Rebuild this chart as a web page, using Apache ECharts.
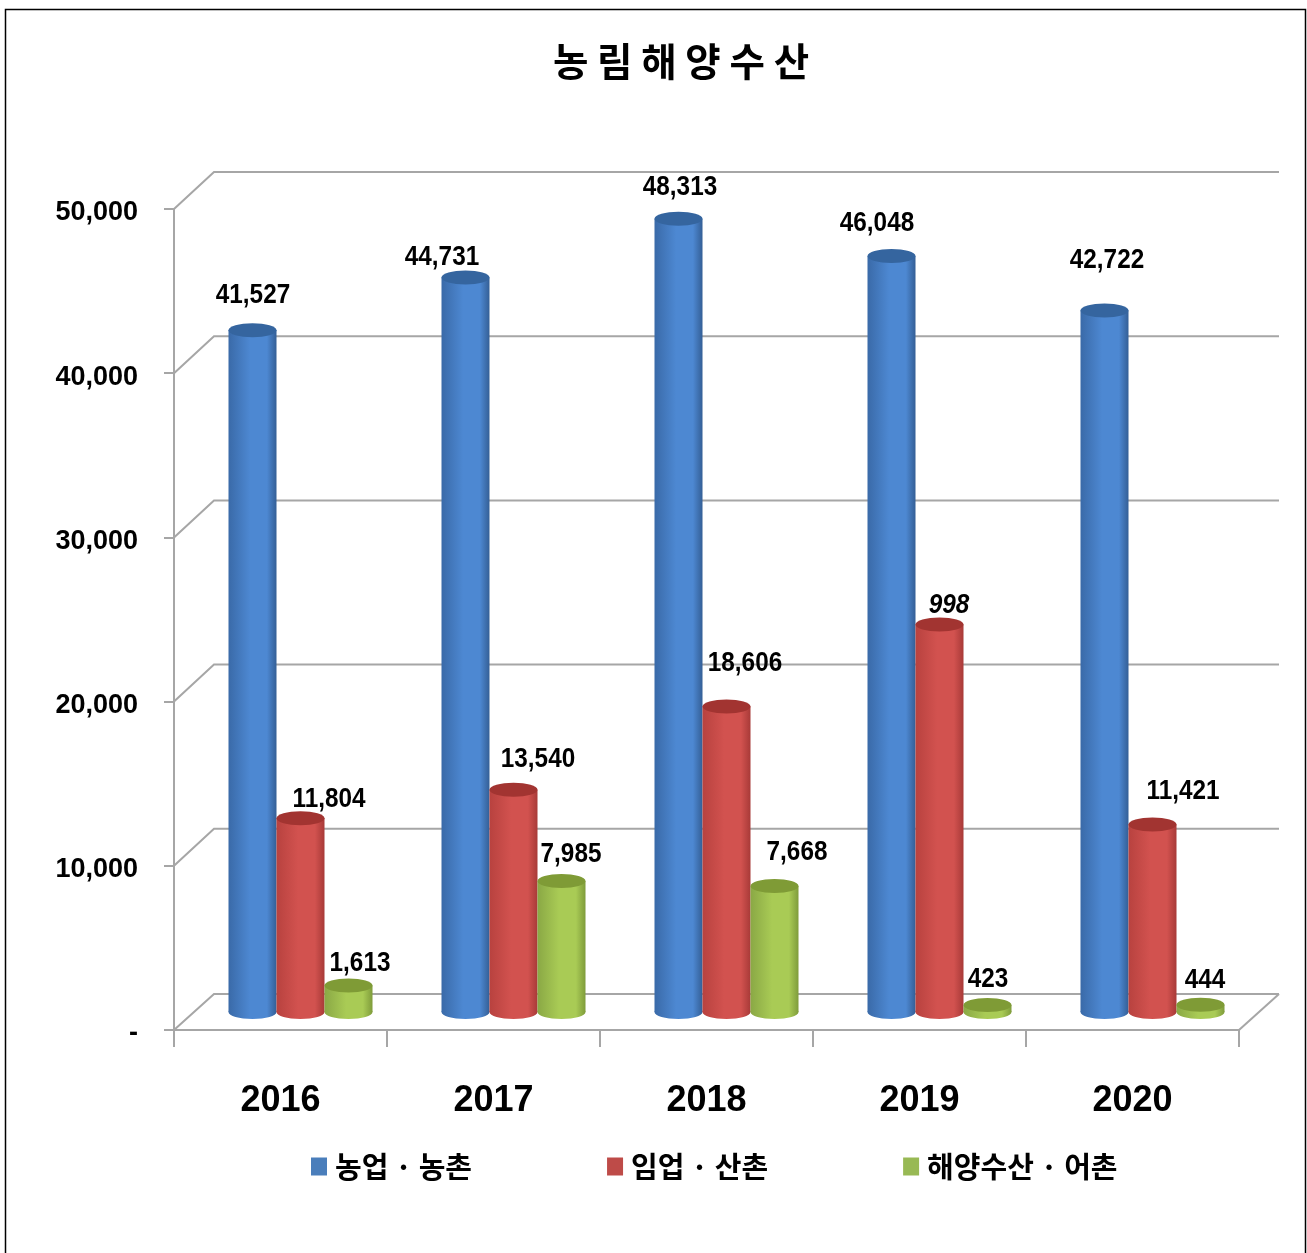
<!DOCTYPE html>
<html><head><meta charset="utf-8">
<style>html,body{margin:0;padding:0;background:#fff}#c{width:1307px;height:1253px}</style>
<script src="https://cdn.jsdelivr.net/npm/echarts@6/dist/echarts.min.js"></script>
</head><body><div id="c"></div>
<script>
const categories = ['2016','2017','2018','2019','2020'];
const seriesNames = ['농업 · 농촌','임업 · 산촌','해양수산 · 어촌'];
const farming = [41527,44731,48313,46048,42722];
const forestry = [11804,13540,18606,23600,11421];
const fishery = [1613,7985,7668,423,444];
const farmingLabels = ['41,527','44,731','48,313','46,048','42,722'];
const forestryLabels = ['11,804','13,540','18,606','998','11,421'];
const fisheryLabels = ['1,613','7,985','7,668','423','444'];
const yTicks = [0,10000,20000,30000,40000,50000];

// layout only: hand-placed label offsets from each cylinder's top centre
const labelShift = [
  [[0.5,-35],[-23.5,-19.5],[1.5,-30.7],[-14.5,-31.9],[2.5,-49.5]],
  [[28.5,-19],[24.5,-30],[18.5,-42.5],[9.5,-18.5],[30.5,-32.5]],
  [[11.5,-21.5],[9.5,-26],[22.5,-34],[0.5,-26],[4.5,-23.7]]
];
const DEPTH_X = 40, DEPTH_Y = -36, WALL_Y = -37, BAR_FRAC = 48/213, RY = 7;
const GRID = '#a6a6a6';
const NUM_FONT = '"Liberation Sans",sans-serif';
const KR_FONT = '"Noto Sans CJK KR",sans-serif';
const palette = [
  {legend:'#4a7ebb', edgeL:'#3a6aa8', mid:'#4d88d2', edgeR:'#345f96', top:'#35659f'},
  {legend:'#be4b48', edgeL:'#b8423f', mid:'#d2524f', edgeR:'#a83a38', top:'#a23431'},
  {legend:'#98b954', edgeL:'#8aa845', mid:'#a9cb55', edgeR:'#7f9c3b', top:'#7f9b36'}
];
const hGrad = p => ({type:'linear',x:0,y:0,x2:1,y2:0,colorStops:[
  {offset:0,color:p.edgeL},{offset:.45,color:p.mid},{offset:.8,color:p.mid},{offset:1,color:p.edgeR}]});

function cylinder(sIdx, labels){
  return function(params, api){
    const cat = api.value(0), val = api.value(1);
    const top = api.coord([cat,val]), base = api.coord([cat,0]);
    const band = api.size([1,0])[0], w = band*BAR_FRAC;
    const cx = top[0] + DEPTH_X/2 + (sIdx-1)*w;
    const ty = top[1] + DEPTH_Y/2, by = base[1] + DEPTH_Y/2;
    const p = palette[sIdx], sh = labelShift[sIdx][params.dataIndex];
    return {type:'group',children:[
      {type:'ellipse',shape:{cx:cx,cy:by,rx:w/2,ry:RY},style:{fill:hGrad(p)}},
      {type:'rect',shape:{x:cx-w/2,y:ty,width:w,height:by-ty},style:{fill:hGrad(p)}},
      {type:'ellipse',shape:{cx:cx,cy:ty,rx:w/2,ry:RY},style:{fill:p.top}},
      {type:'text',x:cx+sh[0],y:ty+sh[1],scaleX:0.9,style:{
        text:labels[params.dataIndex],fill:'#000',align:'center',verticalAlign:'middle',
        font:(labels[params.dataIndex]==='998'?'italic ':'')+'bold 27px '+NUM_FONT}}
    ]};
  };
}
function walls(params, api){
  const v = api.value(1), cs = params.coordSys, y = api.coord([0,v])[1];
  const x0 = cs.x, x1 = cs.x+cs.width, dy = v===0 ? DEPTH_Y : WALL_Y;
  const style = {stroke:GRID,lineWidth:2,fill:null};
  const kids = [{type:'polyline',shape:{points:[[x0,y],[x0+DEPTH_X,y+dy],[x1+DEPTH_X,y+dy]]},style:style}];
  if(v===0) kids.push({type:'line',shape:{x1:x1,y1:y,x2:x1+DEPTH_X,y2:y+dy},style:style});
  return {type:'group',children:kids};
}
const rows = vals => vals.map((v,i)=>[i,v]);
const chart = echarts.init(document.getElementById('c'),null,{renderer:'canvas'});
chart.setOption({
  animation:false,
  backgroundColor:'#fff',
  graphic:[{type:'rect',z:-1,shape:{x:5.5,y:9.5,width:1300,height:1260},style:{fill:null,stroke:'#000',lineWidth:1.5}}],
  title:{text:'농 림 해 양 수 산',left:676,top:37,textAlign:'center',
    textStyle:{fontFamily:KR_FONT,fontWeight:'bold',fontSize:38.5,color:'#000'}},
  legend:{data:seriesNames,left:311,top:1152,padding:0,itemWidth:16,itemHeight:18,itemGap:135,icon:'rect',selectedMode:false,
    textStyle:{fontFamily:KR_FONT,fontWeight:'bold',fontSize:29,color:'#000',padding:[0,0,6,3]}},
  grid:{left:174,top:209,width:1065,height:821,containLabel:false},
  xAxis:{type:'category',data:categories,
    axisLine:{lineStyle:{color:GRID,width:2}},
    axisTick:{show:true,alignWithLabel:false,length:17,lineStyle:{color:GRID,width:2}},
    axisLabel:{margin:53,fontFamily:NUM_FONT,fontWeight:'bold',fontSize:36,color:'#000'}},
  yAxis:{type:'value',min:0,max:50000,interval:10000,
    axisLine:{show:true,lineStyle:{color:GRID,width:2}},
    axisTick:{show:true,length:10,lineStyle:{color:GRID,width:2}},
    splitLine:{show:false},
    axisLabel:{margin:36,fontFamily:NUM_FONT,fontWeight:'bold',fontSize:27,color:'#000',verticalAlign:'top',lineHeight:8,
      formatter:v=>v===0?'-':v.toLocaleString('en-US')}},
  series:[
    {type:'custom',name:'wall',renderItem:walls,data:yTicks.map(v=>[0,v]),encode:{x:0,y:1},silent:true,z:1,clip:false},
    {type:'custom',name:seriesNames[0],renderItem:cylinder(0,farmingLabels),data:rows(farming),encode:{x:0,y:1},itemStyle:{color:palette[0].legend},z:2},
    {type:'custom',name:seriesNames[1],renderItem:cylinder(1,forestryLabels),data:rows(forestry),encode:{x:0,y:1},itemStyle:{color:palette[1].legend},z:3},
    {type:'custom',name:seriesNames[2],renderItem:cylinder(2,fisheryLabels),data:rows(fishery),encode:{x:0,y:1},itemStyle:{color:palette[2].legend},z:4}
  ]
});
</script></body></html>
